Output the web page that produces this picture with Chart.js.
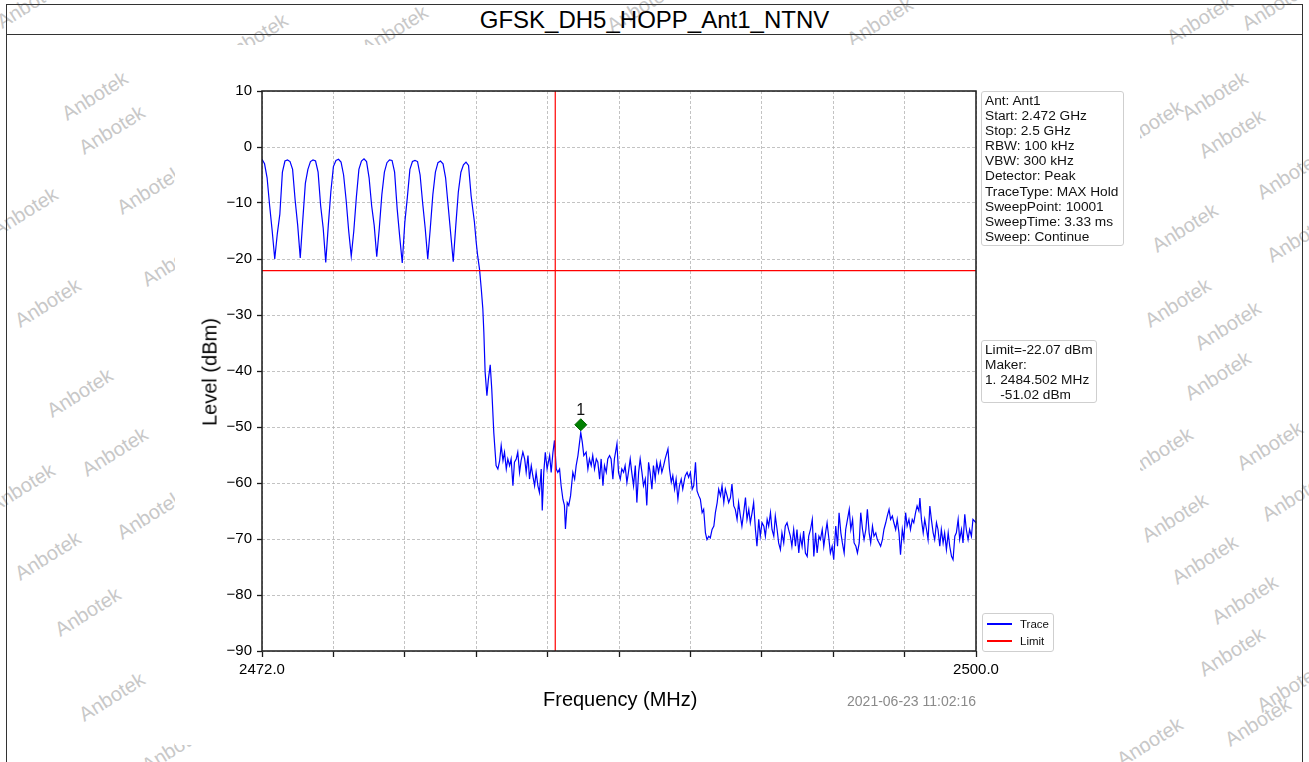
<!DOCTYPE html>
<html>
<head>
<meta charset="utf-8">
<title>GFSK_DH5_HOPP_Ant1_NTNV</title>
<script src="https://cdn.jsdelivr.net/npm/chart.js@4.4.1/dist/chart.umd.min.js"></script>
<style>
  body { margin: 0; background: #fff; font-family: "Liberation Sans", Arial, sans-serif; }
  #page { position: relative; width: 1309px; height: 762px; overflow: hidden; background: #fff; }
  #marks span { position: absolute; color: #c8c8c8; font-size: 20px; white-space: nowrap;
                transform: translate(-50%, -50%) rotate(-32deg); }
  #frame { position: absolute; left: 6px; top: 4px; width: 1297px; height: 800px;
           border: 1.5px solid #333; box-sizing: border-box; }
  #titlebar { position: absolute; left: 6px; top: 4px; width: 1297px; height: 31px;
              border-bottom: 1.5px solid #333; box-sizing: border-box;
              text-align: center; font-size: 24px; line-height: 31px; color: #000; }
  #figure { position: absolute; left: 175px; top: 45px; width: 965px; height: 700px; background: #fff; }
  canvas { position: absolute; left: 0; top: 0; }
  .box { position: absolute; border: 1px solid #cfcfcf; border-radius: 3px; box-sizing: border-box;
         background: rgba(255,255,255,0.85); font-size: 13.7px; line-height: 15.1px;
         white-space: pre; color: #111; padding: 0 0 0 3px; }
  .axtitle { position: absolute; font-size: 20px; color: #000; white-space: nowrap; }
  #stamp { position: absolute; right: 333px; top: 693px; font-size: 14px; color: #8a8a8a; }
  .leg-line { position: absolute; height: 1.5px; width: 25px; }
  .leg-text { position: absolute; font-size: 11.5px; line-height: 14px; color: #111; }
</style>
</head>
<body>
<div id="page">
  <div id="marks"></div>
  <div id="frame"></div>
  <div id="titlebar">GFSK_DH5_HOPP_Ant1_NTNV</div>
  <div id="figure"></div>
  <canvas id="spectrum" width="1309" height="762"></canvas>

  <div class="axtitle" style="left:543px; top:688px;">Frequency (MHz)</div>
  <div class="axtitle" style="left:210px; top:372px; transform: translate(-50%,-50%) rotate(-90deg);">Level (dBm)</div>
  <div id="stamp">2021-06-23 11:02:16</div>

  <div class="box" style="left:981px; top:91px; width:143px; height:155px; padding-top:1px;">Ant: Ant1
Start: 2.472 GHz
Stop: 2.5 GHz
RBW: 100 kHz
VBW: 300 kHz
Detector: Peak
TraceType: MAX Hold
SweepPoint: 10001
SweepTime: 3.33 ms
Sweep: Continue</div>

  <div class="box" style="left:981px; top:340px; width:116px; height:63px; padding-top:1px;">Limit=-22.07 dBm
Maker:
1. 2484.502 MHz
    -51.02 dBm</div>

  <div class="box" style="left:982px; top:613px; width:72px; height:39px;">
    <div class="leg-line" style="left:4px; top:9px; background:#0000ff;"></div>
    <div class="leg-text" style="left:37px; top:3px;">Trace</div>
    <div class="leg-line" style="left:4px; top:26px; background:#ff0000;"></div>
    <div class="leg-text" style="left:37px; top:20px;">Limit</div>
  </div>
</div>

<script>
// --- trace data (MHz / dBm) ---
const hopFreq = [
  2472.0, 2472.1, 2472.2, 2472.3, 2472.4, 2472.5, 2472.6, 2472.7, 2472.8, 2472.9,
  2473.0, 2473.1, 2473.2, 2473.3, 2473.4, 2473.5, 2473.6, 2473.7, 2473.8, 2473.9,
  2474.0, 2474.1, 2474.2, 2474.3, 2474.4, 2474.5, 2474.6, 2474.7, 2474.8, 2474.9,
  2475.0, 2475.1, 2475.2, 2475.3, 2475.4, 2475.5, 2475.6, 2475.7, 2475.8, 2475.9,
  2476.0, 2476.1, 2476.2, 2476.3, 2476.4, 2476.5, 2476.6, 2476.7, 2476.8, 2476.9,
  2477.0, 2477.1, 2477.2, 2477.3, 2477.4, 2477.5, 2477.6, 2477.7, 2477.8, 2477.9,
  2478.0, 2478.1, 2478.2, 2478.3, 2478.4, 2478.5, 2478.6, 2478.7, 2478.8, 2478.9,
  2479.0, 2479.1, 2479.2, 2479.3, 2479.4, 2479.5, 2479.6, 2479.7, 2479.8, 2479.9,
  2480.0, 2480.1
];
const hopLevel = [
  -2.2, -3.0, -5.5, -10.5, -15.0, -20.0, -15.5, -12.0, -4.5, -2.5,
  -2.3, -2.6, -4.0, -9.5, -14.0, -19.8, -13.0, -6.5, -4.0, -2.6,
  -2.3, -2.5, -4.5, -10.5, -14.5, -20.6, -14.0, -8.0, -3.5, -2.4,
  -2.2, -2.7, -5.0, -9.5, -15.0, -19.5, -15.0, -9.0, -4.0, -2.5,
  -2.1, -2.6, -5.5, -10.5, -14.0, -19.6, -14.5, -8.5, -4.5, -2.8,
  -2.3, -2.4, -4.5, -11.0, -16.0, -20.7, -13.5, -9.0, -4.0, -2.6,
  -2.4, -2.6, -5.0, -10.0, -14.5, -20.0, -14.5, -8.5, -4.5, -2.8,
  -2.5, -3.0, -5.5, -10.5, -15.5, -20.5, -14.0, -8.0, -4.5, -3.2,
  -2.7, -3.3
];
const edgeFreq = [2480.2, 2480.33, 2480.4, 2480.46, 2480.53, 2480.6, 2480.66, 2480.7, 2480.75,
  2480.82, 2480.88, 2480.95, 2481.01, 2481.09, 2481.18, 2481.25, 2481.32];
const edgeLevel = [-8.7, -13.4, -17.0, -19.5, -21.8, -25.4, -28.9, -33.1, -40.2,
  -44.4, -41.4, -38.9, -43.2, -51.0, -56.9, -57.5, -56.0];

const floorAFreq = [
  2481.38, 2481.45, 2481.51, 2481.58, 2481.64, 2481.71, 2481.77, 2481.84, 2481.90, 2481.97,
  2482.03, 2482.10, 2482.16, 2482.23, 2482.30, 2482.36, 2482.43, 2482.49, 2482.56, 2482.62,
  2482.69, 2482.75, 2482.82, 2482.88, 2482.95, 2482.99, 2483.05, 2483.11, 2483.18, 2483.28,
  2483.34, 2483.41, 2483.47, 2483.54, 2483.60, 2483.67, 2483.73, 2483.80, 2483.86, 2483.90,
  2483.97, 2484.03, 2484.10, 2484.19, 2484.26, 2484.32, 2484.39, 2484.50, 2484.56, 2484.62,
  2484.71, 2484.78, 2484.84, 2484.91, 2484.97, 2485.04, 2485.11, 2485.17, 2485.24, 2485.30,
  2485.37, 2485.43, 2485.50, 2485.56, 2485.63, 2485.69, 2485.76, 2485.82, 2485.92, 2485.98,
  2486.05, 2486.11, 2486.18, 2486.24, 2486.31, 2486.37, 2486.44, 2486.50, 2486.57, 2486.64,
  2486.70, 2486.77, 2486.83, 2486.90, 2486.96, 2487.03, 2487.09, 2487.16, 2487.22, 2487.29,
  2487.35, 2487.42, 2487.48, 2487.55, 2487.62, 2487.68, 2487.75, 2487.81, 2487.92, 2487.98,
  2488.05, 2488.11, 2488.18, 2488.24, 2488.31, 2488.37, 2488.44, 2488.50, 2488.57
];
const floorALevel = [
  -53.3, -56.0, -54.5, -57.5, -55.7, -56.9, -55.7, -60.5, -56.3, -55.7,
  -54.5, -58.1, -56.0, -54.5, -55.7, -58.1, -55.1, -59.3, -56.9, -58.7,
  -60.5, -58.1, -60.5, -61.7, -57.5, -64.9, -58.1, -54.5, -57.5, -55.1,
  -58.1, -54.5, -52.4, -57.5, -58.1, -57.5, -60.5, -62.9, -64.0, -68.2,
  -63.5, -64.0, -62.3, -58.1, -59.3, -56.9, -55.1, -51.0, -52.7, -55.1,
  -54.5, -57.5, -55.7, -56.9, -55.1, -57.5, -55.7, -56.3, -59.3, -55.7,
  -60.5, -56.9, -58.1, -55.7, -55.1, -55.7, -59.3, -55.7, -53.0, -58.1,
  -59.3, -57.5, -58.1, -56.9, -59.9, -58.1, -55.7, -58.1, -60.5, -56.9,
  -63.5, -58.1, -55.7, -58.1, -60.5, -59.3, -64.0, -56.3, -58.1, -61.1,
  -56.9, -59.3, -56.3, -58.1, -56.3, -58.1, -56.9, -55.7, -53.9, -57.5,
  -59.9, -58.7, -61.1, -59.3, -62.9, -60.5, -59.3, -61.1, -59.3
];

const floorBFreq = [
  2488.60, 2488.67, 2488.73, 2488.80, 2488.87, 2488.93, 2489.00, 2489.06, 2489.13, 2489.19,
  2489.26, 2489.32, 2489.39, 2489.45, 2489.52, 2489.58, 2489.65, 2489.72, 2489.78, 2489.85,
  2489.91, 2489.98, 2490.04, 2490.11, 2490.17, 2490.24, 2490.30, 2490.37, 2490.43, 2490.50,
  2490.56, 2490.63, 2490.69, 2490.76, 2490.82, 2490.89, 2490.96, 2491.02, 2491.09, 2491.15,
  2491.22, 2491.28, 2491.35, 2491.41, 2491.48, 2491.54, 2491.61, 2491.68, 2491.74, 2491.81,
  2491.87, 2491.94, 2492.00, 2492.07, 2492.13, 2492.20, 2492.26, 2492.33, 2492.39, 2492.46,
  2492.52, 2492.59, 2492.65, 2492.72, 2492.78, 2492.85, 2492.92, 2492.98, 2493.05, 2493.11,
  2493.18, 2493.24, 2493.31, 2493.38, 2493.44, 2493.51, 2493.58, 2493.64, 2493.71, 2493.77,
  2493.84, 2493.90, 2493.97, 2494.03, 2494.10, 2494.16, 2494.22, 2494.29, 2494.36, 2494.42
];
const floorBLevel = [
  -58.7, -58.1, -59.0, -58.1, -61.1, -60.5, -56.3, -61.4, -62.3, -62.9,
  -65.3, -64.7, -68.9, -70.1, -69.5, -69.8, -68.3, -67.7, -65.3, -63.5,
  -61.1, -62.3, -60.5, -63.5, -61.1, -62.3, -63.5, -62.6, -60.2, -64.1,
  -64.7, -66.5, -63.5, -65.9, -67.7, -65.3, -62.6, -66.5, -64.7, -67.1,
  -65.3, -63.5, -68.3, -71.3, -66.5, -69.5, -67.1, -67.7, -69.5, -66.5,
  -67.7, -65.3, -68.3, -69.5, -65.9, -68.3, -70.7, -71.9, -68.9, -70.7,
  -67.7, -67.1, -68.3, -69.5, -71.3, -68.3, -71.3, -68.3, -72.5, -69.5,
  -71.3, -68.6, -72.5, -73.1, -69.5, -68.3, -66.5, -73.1, -68.9, -72.5,
  -69.5, -70.1, -68.3, -71.3, -68.9, -67.1, -69.5, -72.5, -71.3, -73.7
];

const floorCFreq = [
  2494.50, 2494.57, 2494.63, 2494.70, 2494.76, 2494.83, 2494.89, 2494.96, 2495.03, 2495.09,
  2495.16, 2495.22, 2495.29, 2495.35, 2495.42, 2495.48, 2495.55, 2495.61, 2495.68, 2495.74,
  2495.81, 2495.87, 2495.94, 2496.00, 2496.07, 2496.13, 2496.20, 2496.26, 2496.33, 2496.39,
  2496.46, 2496.52, 2496.59, 2496.65, 2496.72, 2496.78, 2496.85, 2496.91, 2496.98, 2497.04,
  2497.11, 2497.17, 2497.24, 2497.30, 2497.37, 2497.43, 2497.50, 2497.56, 2497.63, 2497.69,
  2497.76, 2497.80, 2497.86, 2497.93, 2497.99, 2498.06, 2498.12, 2498.19, 2498.25, 2498.32,
  2498.38, 2498.45, 2498.51, 2498.58, 2498.64, 2498.71, 2498.77, 2498.84, 2498.91, 2498.97,
  2499.04, 2499.10, 2499.17, 2499.23, 2499.30, 2499.36, 2499.43, 2499.49, 2499.56, 2499.62,
  2499.69, 2499.75, 2499.82, 2499.88, 2500.0
];
const floorCLevel = [
  -67.7, -71.3, -65.3, -68.9, -70.7, -72.5, -68.3, -66.5, -64.7, -68.3,
  -66.5, -70.7, -71.3, -72.5, -70.7, -65.3, -68.3, -70.1, -68.3, -64.7,
  -68.9, -70.7, -67.7, -69.5, -68.9, -70.1, -70.7, -71.3, -70.1, -68.3,
  -67.1, -65.9, -64.7, -66.5, -65.9, -67.1, -68.3, -66.5, -68.9, -72.8,
  -68.3, -70.1, -65.3, -67.7, -66.5, -68.3, -66.5, -67.1, -65.3, -64.1,
  -65.0, -62.7, -66.5, -68.9, -66.5, -68.3, -70.1, -64.1, -66.5, -68.9,
  -70.1, -67.1, -68.3, -71.3, -68.3, -70.7, -68.9, -71.9, -68.9, -71.3,
  -73.1, -73.7, -69.5, -68.9, -66.5, -70.1, -68.3, -70.7, -65.6, -68.3,
  -70.1, -68.3, -69.5, -66.5, -67.1
];

const limitLevel = -22.07;
const cursorFreq = 2483.5;
const markerFreq = [2484.502];
const markerLevel = [-49.6];
const markerName = '1';

const xTickValues = [2472, 2474.8, 2477.6, 2480.4, 2483.2, 2486, 2488.8, 2491.6, 2494.4, 2497.2, 2500];
const xTickLabels = ['2472.0', '', '', '', '', '', '', '', '', '', '2500.0'];
const yTickValues = [-90, -80, -70, -60, -50, -40, -30, -20, -10, 0, 10];
const yTickLabels = ['\u221290', '\u221280', '\u221270', '\u221260', '\u221250', '\u221240',
  '\u221230', '\u221220', '\u221210', '0', '10'];

// watermark spots (page pixels), drawn behind the figure
const watermarkSpots = [
  [30, 4], [95, 96], [112, 130], [150, 190], [25, 212], [175, 262], [48, 303], [80, 393],
  [115, 452], [150, 515], [22, 488], [48, 556], [88, 612], [112, 697], [175, 748],
  [255, 38], [395, 30], [640, 8], [880, 22], [1200, 20], [1275, 6], [1215, 96], [1232, 134],
  [1290, 175], [1150, 125], [1185, 228], [1300, 238], [1178, 303], [1228, 326], [1218, 376],
  [1160, 452], [1270, 446], [1175, 518], [1295, 497], [1205, 560], [1245, 600], [1232, 652],
  [1290, 688], [1150, 742], [1258, 722]
];

const marks = document.getElementById('marks');
watermarkSpots.forEach(([x, y]) => {
  const s = document.createElement('span');
  s.textContent = 'Anbotek';
  s.style.left = x + 'px';
  s.style.top = y + 'px';
  marks.appendChild(s);
});

const fontFamily = '"Liberation Sans", Arial, sans-serif';

const freqAll = [].concat(hopFreq, edgeFreq, floorAFreq, floorBFreq, floorCFreq);
const levelAll = [].concat(hopLevel, edgeLevel, floorALevel, floorBLevel, floorCLevel);
const tracePoints = freqAll.map((f, i) => ({ x: f, y: levelAll[i] }));

// frame around plot + marker number
const plotFrame = {
  id: 'plotFrame',
  afterDraw(chart) {
    const { ctx, chartArea: a } = chart;
    ctx.save();
    ctx.strokeStyle = '#1a1a1a';
    ctx.lineWidth = 1.5;
    ctx.strokeRect(a.left, a.top, a.right - a.left, a.bottom - a.top);
    const pt = chart.getDatasetMeta(0).data[0];
    ctx.fillStyle = '#111';
    ctx.font = '16px ' + fontFamily;
    ctx.textAlign = 'center';
    ctx.textBaseline = 'middle';
    ctx.fillText(markerName, pt.x, pt.y - 14);
    ctx.restore();
  }
};

new Chart(document.getElementById('spectrum'), {
  type: 'line',
  data: {
    datasets: [
      {
        label: 'Marker',
        type: 'scatter',
        data: markerFreq.map((f, i) => ({ x: f, y: markerLevel[i] })),
        pointStyle: 'rectRot',
        pointRadius: 6,
        backgroundColor: '#008000',
        borderColor: '#006400',
        borderWidth: 1
      },
      {
        label: 'Cursor',
        data: [{ x: cursorFreq, y: -90 }, { x: cursorFreq, y: 10 }],
        borderColor: '#ff0000',
        borderWidth: 1.2,
        pointRadius: 0
      },
      {
        label: 'Limit',
        data: [{ x: 2472, y: limitLevel }, { x: 2500, y: limitLevel }],
        borderColor: '#ff0000',
        borderWidth: 1.2,
        pointRadius: 0
      },
      {
        label: 'Trace',
        data: tracePoints,
        borderColor: '#0000ff',
        borderWidth: 1.2,
        pointRadius: 0,
        tension: 0
      }
    ]
  },
  options: {
    responsive: false,
    devicePixelRatio: 1,
    animation: false,
    events: [],
    layout: { padding: { left: 0, top: 91, right: 333, bottom: 0 } },
    plugins: { legend: { display: false }, tooltip: { enabled: false } },
    scales: {
      x: {
        type: 'linear',
        min: 2472,
        max: 2500,
        afterBuildTicks: (s) => { s.ticks = xTickValues.map(v => ({ value: v })); },
        afterFit: (s) => { s.height = 111; },
        ticks: {
          autoSkip: false, maxRotation: 0, minRotation: 0, padding: 4,
          color: '#000', font: { size: 15, family: fontFamily },
          callback: (v, i) => xTickLabels[i]
        },
        grid: { color: '#b4b4b4', lineWidth: 0.8, tickColor: '#1a1a1a', tickLength: 6, tickWidth: 1.3 },
        border: { display: false, dash: [3, 2] }
      },
      y: {
        type: 'linear',
        min: -90,
        max: 10,
        afterBuildTicks: (s) => { s.ticks = yTickValues.map(v => ({ value: v })); },
        afterFit: (s) => { s.width = 262; },
        ticks: {
          padding: 5, color: '#000', font: { size: 15, family: fontFamily },
          callback: (v, i) => yTickLabels[i]
        },
        grid: { color: '#b4b4b4', lineWidth: 0.8, tickColor: '#1a1a1a', tickLength: 5, tickWidth: 1.3 },
        border: { display: false, dash: [3, 2] }
      }
    }
  },
  plugins: [plotFrame]
});
</script>
</body>
</html>
